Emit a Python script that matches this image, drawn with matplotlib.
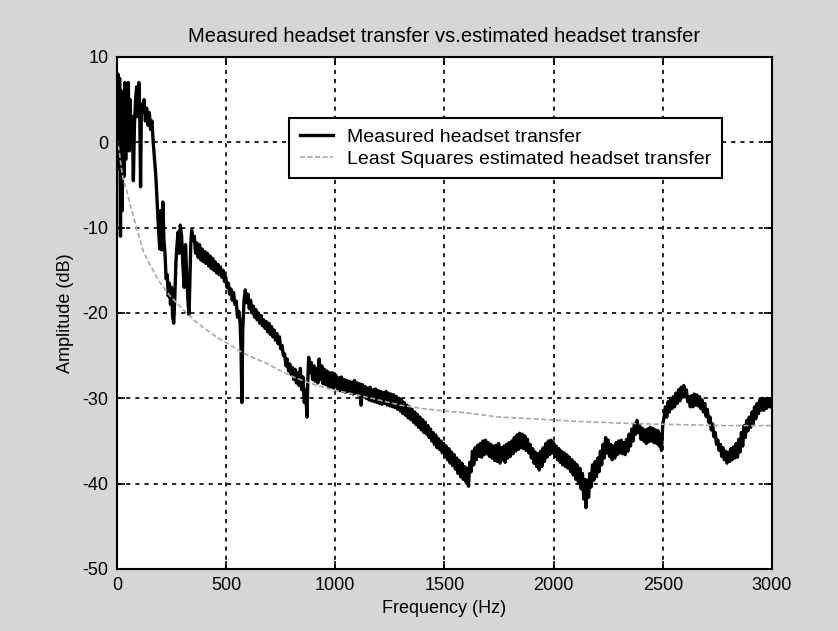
import matplotlib
matplotlib.use("Agg")
import matplotlib.pyplot as plt

plt.rcParams['font.family'] = ['Liberation Sans Narrow', 'Liberation Sans', 'DejaVu Sans']
plt.rcParams['axes.unicode_minus'] = False

# measured headset transfer (top/bottom of the noise band)
meas_freq = [
    0, 4, 8, 12, 16, 20, 24, 28, 32, 36, 40, 44, 48, 52, 56, 60, 65, 70, 75, 80,
    85, 90, 95, 100, 104, 108, 112, 118, 124, 130, 136, 142, 148, 154, 160, 166, 172, 178, 184, 190,
    196, 200, 205, 210, 215, 220, 225, 230, 235, 240, 245, 250, 255, 260, 265, 270, 275, 280, 285, 290,
    296, 302, 308, 314, 320, 326, 330, 334, 338, 342, 348, 354, 360, 366, 372, 378, 384, 390, 396, 402,
    408, 414, 420, 426, 432, 438, 444, 450, 456, 462, 468, 474, 480, 486, 492, 498, 504, 510, 516, 522,
    528, 534, 540, 546, 552, 558, 564, 568, 572, 576, 582, 588, 594, 600, 606, 612, 618, 624, 630, 636,
    642, 648, 654, 660, 666, 672, 678, 684, 690, 696, 702, 708, 714, 720, 726, 732, 738, 744, 750, 756,
    762, 768, 774, 780, 786, 792, 798, 804, 810, 816, 822, 828, 834, 840, 846, 852, 858, 864, 870, 874,
    878, 884, 890, 896, 902, 908, 914, 920, 926, 932, 938, 944, 950, 956, 962, 968, 974, 980, 986, 992,
    998, 1004, 1010, 1016, 1022, 1028, 1034, 1040, 1046, 1052, 1058, 1064, 1070, 1076, 1082, 1088, 1094, 1100, 1106, 1112,
    1118, 1124, 1130, 1136, 1142, 1148, 1154, 1160, 1166, 1172, 1178, 1184, 1190, 1196, 1202, 1208, 1214, 1220, 1226, 1232,
    1238, 1244, 1250, 1256, 1262, 1268, 1274, 1280, 1286, 1292, 1298, 1304, 1310, 1316, 1322, 1328, 1334, 1340, 1346, 1352,
    1358, 1364, 1370, 1376, 1382, 1388, 1394, 1400, 1406, 1412, 1418, 1424, 1430, 1436, 1442, 1448, 1454, 1460, 1466, 1472,
    1478, 1484, 1490, 1496, 1502, 1508, 1514, 1520, 1526, 1532, 1538, 1544, 1550, 1556, 1562, 1568, 1574, 1580, 1586, 1592,
    1598, 1604, 1610, 1616, 1622, 1628, 1634, 1640, 1646, 1652, 1658, 1664, 1670, 1676, 1682, 1688, 1694, 1700, 1706, 1712,
    1718, 1724, 1730, 1736, 1742, 1748, 1754, 1760, 1766, 1772, 1778, 1784, 1790, 1796, 1802, 1808, 1814, 1820, 1826, 1832,
    1838, 1844, 1850, 1856, 1862, 1868, 1874, 1880, 1886, 1892, 1898, 1904, 1910, 1916, 1922, 1928, 1934, 1940, 1946, 1952,
    1958, 1964, 1970, 1976, 1982, 1988, 1994, 2000, 2006, 2012, 2018, 2024, 2030, 2036, 2042, 2048, 2054, 2060, 2066, 2072,
    2078, 2084, 2090, 2096, 2102, 2108, 2114, 2120, 2126, 2132, 2138, 2144, 2148, 2154, 2160, 2166, 2172, 2178, 2184, 2190,
    2196, 2202, 2208, 2214, 2220, 2226, 2232, 2238, 2244, 2250, 2256, 2262, 2268, 2274, 2280, 2286, 2292, 2298, 2304, 2310,
    2316, 2322, 2328, 2334, 2340, 2346, 2352, 2358, 2364, 2370, 2376, 2382, 2388, 2394, 2400, 2406, 2412, 2418, 2424, 2430,
    2436, 2442, 2448, 2454, 2460, 2466, 2472, 2478, 2484, 2490, 2494, 2500, 2506, 2512, 2518, 2524, 2530, 2536, 2542, 2548,
    2554, 2560, 2566, 2572, 2578, 2584, 2590, 2596, 2602, 2608, 2614, 2620, 2626, 2632, 2638, 2644, 2650, 2656, 2662, 2668,
    2674, 2680, 2686, 2692, 2698, 2704, 2710, 2716, 2722, 2728, 2734, 2740, 2746, 2752, 2758, 2764, 2770, 2776, 2782, 2788,
    2794, 2800, 2806, 2812, 2818, 2824, 2830, 2836, 2842, 2848, 2854, 2860, 2866, 2872, 2878, 2884, 2890, 2896, 2902, 2908,
    2914, 2920, 2926, 2932, 2938, 2944, 2950, 2956, 2962, 2968, 2974, 2980, 2986, 2992, 2998,
]
meas_db = [
    1.0, 8.0, -3.0, 7.5, -11.0, 6.0, -8.0, 5.5, -4.0, 7.0, -2.0, 6.5, 1.0, 7.0, -1.0, 5.0, 0.0, 3.0, -4.5, 2.0,
    5.0, 6.5, 3.0, 7.0, 4.0, -5.2, 4.5, 3.5, 5.0, 2.5, 4.0, 2.0, 3.5, 1.5, 2.5, 0.0, -2.0, -4.0, -7.0, -10.0,
    -12.5, -8.0, -12.6, -7.0, -11.5, -13.0, -16.0, -15.5, -18.0, -16.5, -19.0, -17.0, -20.5, -21.2, -18.0, -14.0, -12.0, -10.5, -13.0, -9.7,
    -11.0, -14.5, -17.0, -12.0, -16.0, -19.0, -20.2, -16.0, -12.0, -10.3, -11.5, -11.0, -13.0, -11.8, -13.5, -12.0, -13.8, -12.5, -14.0, -12.8,
    -14.2, -13.0, -14.5, -13.3, -14.8, -13.6, -15.0, -14.0, -15.3, -14.3, -15.5, -14.6, -15.8, -15.0, -16.3, -15.8, -17.0, -16.5, -17.8, -17.2,
    -18.5, -17.6, -19.0, -18.6, -20.5, -19.8, -21.2, -24.0, -30.5, -22.0, -18.5, -17.3, -18.8, -17.8, -19.5, -18.5, -20.0, -19.2, -20.5, -19.6,
    -20.8, -20.0, -21.2, -20.3, -21.5, -20.8, -21.8, -21.0, -22.2, -21.2, -22.5, -21.6, -22.8, -22.0, -23.2, -22.4, -23.6, -22.8, -24.2, -23.8,
    -25.0, -24.8, -26.2, -25.4, -26.8, -26.0, -27.2, -26.4, -27.8, -26.6, -28.2, -27.0, -28.5, -26.5, -29.0, -27.5, -30.5, -29.0, -32.2, -28.0,
    -25.2, -27.0, -25.8, -27.8, -26.2, -28.0, -26.5, -28.2, -25.4, -27.8, -26.2, -28.3, -26.6, -28.4, -26.8, -28.6, -27.0, -28.7, -27.0, -28.8,
    -27.2, -27.4, -29.0, -27.6, -29.1, -27.5, -29.2, -27.8, -29.3, -27.9, -29.2, -28.0, -29.4, -28.1, -29.5, -27.9, -29.4, -28.2, -29.6, -28.3,
    -30.8, -28.4, -29.8, -28.6, -30.0, -28.8, -30.2, -28.7, -30.3, -29.0, -30.4, -28.9, -30.5, -29.1, -30.6, -29.2, -30.7, -29.3, -30.6, -29.2,
    -30.8, -29.4, -30.9, -29.5, -31.0, -29.6, -31.1, -29.8, -31.3, -30.0, -31.5, -30.2, -31.8, -30.5, -32.0, -30.8, -32.3, -31.0, -32.5, -31.3,
    -32.8, -31.6, -33.1, -31.9, -33.4, -32.2, -33.7, -32.5, -34.0, -32.8, -34.2, -33.2, -34.6, -33.6, -35.0, -34.0, -35.4, -34.3, -35.8, -34.7,
    -36.0, -35.0, -36.4, -35.3, -36.8, -35.6, -37.2, -35.9, -37.6, -36.3, -37.9, -36.6, -38.3, -37.0, -38.8, -37.3, -39.2, -37.6, -39.5, -38.0,
    -39.8, -38.2, -40.3, -37.5, -38.6, -36.2, -37.8, -35.8, -37.2, -35.5, -36.8, -35.3, -36.9, -35.0, -36.6, -34.9, -36.5, -35.2, -36.8, -35.4,
    -37.0, -35.6, -37.3, -35.5, -37.4, -35.3, -37.6, -35.8, -37.2, -35.6, -37.5, -35.4, -37.0, -35.2, -36.8, -35.0, -36.5, -34.6, -36.2, -34.3,
    -36.0, -34.1, -35.8, -34.2, -35.9, -34.4, -36.1, -34.8, -36.4, -35.4, -37.0, -35.9, -37.6, -36.3, -38.0, -36.5, -38.4, -36.2, -38.0, -35.8,
    -37.4, -35.3, -36.9, -35.0, -36.6, -34.9, -36.4, -35.2, -36.8, -35.6, -37.2, -35.9, -37.5, -36.2, -37.8, -36.4, -38.0, -36.6, -38.2, -36.9,
    -38.6, -37.2, -39.0, -37.5, -39.5, -37.8, -40.0, -38.2, -40.6, -38.8, -41.8, -39.5, -42.8, -39.6, -41.6, -38.8, -40.4, -37.8, -39.6, -37.4,
    -39.2, -37.0, -38.6, -36.2, -37.8, -35.4, -37.0, -34.6, -36.4, -34.9, -36.8, -35.4, -37.2, -35.6, -37.0, -35.2, -36.6, -35.0, -36.4, -34.9,
    -36.5, -35.2, -36.6, -34.8, -36.2, -34.2, -35.6, -33.6, -35.0, -33.0, -34.2, -32.6, -34.0, -33.2, -34.8, -33.5, -35.0, -33.7, -35.3, -33.6,
    -35.1, -33.4, -35.0, -33.5, -35.2, -33.7, -35.3, -33.8, -35.6, -34.2, -36.1, -33.0, -32.2, -31.0, -32.2, -30.4, -31.6, -30.0, -31.2, -29.8,
    -31.0, -29.4, -30.6, -29.0, -30.3, -28.7, -29.9, -28.5, -29.8, -29.0, -30.4, -29.8, -31.0, -29.7, -31.0, -29.5, -30.8, -29.6, -30.9, -29.8,
    -31.2, -30.2, -31.6, -30.6, -32.1, -31.3, -32.8, -32.2, -33.7, -33.0, -34.5, -34.0, -35.4, -34.9, -36.1, -35.4, -36.8, -35.8, -37.2, -36.2,
    -37.6, -36.3, -37.4, -35.9, -37.2, -35.7, -37.0, -35.3, -36.9, -34.8, -36.3, -34.0, -35.6, -33.2, -34.6, -32.6, -33.8, -32.2, -33.4, -31.6,
    -33.0, -31.0, -32.4, -30.6, -31.8, -30.2, -31.4, -30.0, -31.4, -30.1, -31.2, -30.0, -31.0, -30.2, -31.0,
]

# least squares estimate
est_freq = [0, 10, 20, 30, 44, 60, 75, 95, 121, 150, 182, 210, 243, 280, 319, 360, 411, 455, 502, 540,
            579, 630, 686, 750, 808, 870, 930, 991, 1100, 1200, 1297, 1400, 1500, 1602, 1750, 1908, 2100,
            2300, 2427, 2600, 2800, 3000]
est_db = [0.5, -1.0, -3.0, -4.5, -5.6, -7.3, -8.6, -10.5, -12.8, -14.3, -15.8, -16.9, -18.0, -19.0, -20.0,
          -21.0, -22.0, -22.8, -23.5, -24.1, -24.7, -25.3, -25.9, -26.8, -27.5, -28.1, -28.6, -29.0, -29.6,
          -30.2, -30.8, -31.2, -31.5, -31.7, -32.2, -32.4, -32.7, -32.9, -33.0, -33.1, -33.2, -33.2]

xticks = [0, 500, 1000, 1500, 2000, 2500, 3000]
yticks = [-50, -40, -30, -20, -10, 0, 10]

fig = plt.figure(figsize=(8.38, 6.31), dpi=100, facecolor='#d6d6d6')
ax = fig.add_axes([0.1396, 0.0983, 0.7816, 0.8114])
ax.set_facecolor('white')

ax.plot(meas_freq, meas_db, color='black', lw=2.4, label='Measured headset transfer')
ax.plot(est_freq, est_db, color='#a8a8a8', lw=1.2, linestyle=(0, (3, 1.5)),
        label='Least Squares estimated headset transfer')

ax.set_xlim(0, 3000)
ax.set_ylim(-50, 10)
ax.set_xticks(xticks)
ax.set_yticks(yticks)
ax.tick_params(direction='in', length=6, width=1.2, top=True, right=True,
               labelsize=13, colors='black', pad=6)
ax.grid(True, color='black', linestyle=(0, (2.5, 3)), lw=1.2)
for s in ax.spines.values():
    s.set_linewidth(1.5)

ax.set_title('Measured headset transfer vs.estimated headset transfer', fontsize=14.5, pad=11)
ax.set_xlabel('Frequency (Hz)', fontsize=13, labelpad=4)
ax.set_ylabel('Amplitude (dB)', fontsize=13, labelpad=6)

leg = ax.legend(loc='upper left', bbox_to_anchor=(0.263, 0.881), borderaxespad=0,
                fancybox=False, edgecolor='black', framealpha=1, handlelength=1.7,
                prop={'family': 'Liberation Sans', 'size': 14}, labelspacing=0.2,
                borderpad=0.55, handletextpad=0.7)
leg.get_frame().set_linewidth(1.5)

fig.savefig('out.png', dpi=100, facecolor=fig.get_facecolor())
